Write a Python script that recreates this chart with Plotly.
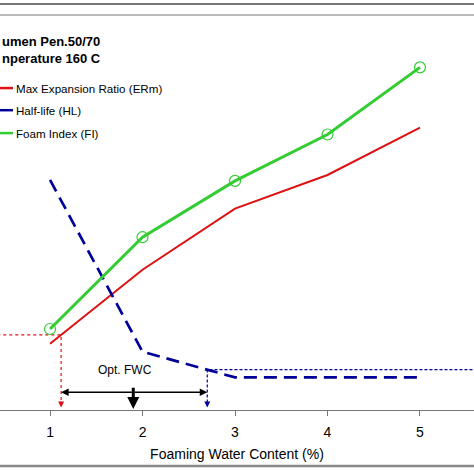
import plotly.graph_objects as go

# ---- data (y in arbitrary chart units) ----
fwc = [1, 2, 3, 4, 5]
erm = [6.7, 14.2, 20.4, 23.8, 28.6]      # Max Expansion Ratio (ERm)
hl = [23.3, 5.9, 3.3, 3.3, 3.3]          # Half-life (HL)
fi = [8.2, 17.5, 23.2, 27.9, 34.7]       # Foam Index (FI)
x_ticks = [1, 2, 3, 4, 5]
fwc_low = 1.12     # FWC where ERm meets its limit
fwc_high = 2.70    # FWC where HL meets its limit
fwc_opt = 1.90     # optimum FWC
erm_limit = 7.6
hl_limit = 4.08

RED = "#DD1111"
BLUE = "#000099"
GREEN = "#33CC33"
FONT = "Liberation Sans, Arial, sans-serif"

fig = go.Figure()

# reference (dotted) lines
fig.add_trace(go.Scatter(x=[0.3, fwc_low, fwc_low], y=[erm_limit, erm_limit, 0.7],
                         mode="lines", line=dict(color=RED, width=1.2, dash="3px,3px"),
                         hoverinfo="skip", showlegend=False))
fig.add_trace(go.Scatter(x=[6.0, fwc_high, fwc_high], y=[hl_limit, hl_limit, 0.7],
                         mode="lines", line=dict(color=BLUE, width=1.2, dash="3px,2px"),
                         hoverinfo="skip", showlegend=False))

fig.add_trace(go.Scatter(x=fwc, y=erm, mode="lines", name="Max Expansion Ratio (ERm)",
                         line=dict(color=RED, width=2)))
fig.add_trace(go.Scatter(x=fwc, y=hl, mode="lines", name="Half-life (HL)",
                         line=dict(color=BLUE, width=2.7, dash="13px,7px")))
fig.add_trace(go.Scatter(x=fwc, y=fi, mode="lines+markers", name="Foam Index (FI)",
                         line=dict(color=GREEN, width=3),
                         marker=dict(symbol="circle-open", size=11, color=GREEN,
                                     line=dict(width=1.2, color=GREEN))))

annotations = []
# dotted-line arrowheads
for xv, col in [(fwc_low, RED), (fwc_high, BLUE)]:
    annotations.append(dict(x=xv, y=0.25, ax=xv, ay=1.0, xref="x", yref="y",
                            axref="x", ayref="y", showarrow=True, arrowhead=2,
                            arrowsize=1, arrowwidth=1.2, arrowcolor=col, text=""))
# double arrow for optimum range
for xv in [fwc_low, fwc_high]:
    annotations.append(dict(x=xv, y=1.8, ax=fwc_opt, ay=1.8, xref="x", yref="y",
                            axref="x", ayref="y", showarrow=True, arrowhead=2,
                            arrowsize=1, arrowwidth=1.5, arrowcolor="black", text=""))
# optimum FWC arrow
annotations.append(dict(x=fwc_opt, y=0.1, ax=fwc_opt, ay=2.4, xref="x", yref="y",
                        axref="x", ayref="y", showarrow=True, arrowhead=2,
                        arrowsize=0.8, arrowwidth=3, arrowcolor="black", text=""))
annotations.append(dict(x=1.81, y=4.05, xref="x", yref="y", text="Opt. FWC",
                        showarrow=False, font=dict(family=FONT, size=12, color="black")))

# title block (cropped in the source)
annotations.append(dict(x=0, y=0.932, xref="paper", yref="paper", xanchor="left",
                        yanchor="middle", text="<b>umen Pen.50/70</b>", showarrow=False,
                        font=dict(family=FONT, size=13, color="black")))
annotations.append(dict(x=0, y=0.889, xref="paper", yref="paper", xanchor="left",
                        yanchor="middle", text="<b>nperature 160 C</b>", showarrow=False,
                        font=dict(family=FONT, size=13, color="black")))

shapes = []
legend_items = [("Max Expansion Ratio (ERm)", RED, 0.815),
                ("Half-life (HL)", BLUE, 0.759),
                ("Foam Index (FI)", GREEN, 0.701)]
for label, col, yp in legend_items:
    shapes.append(dict(type="line", xref="paper", yref="paper", x0=0, x1=13 / 474,
                       y0=yp, y1=yp, line=dict(color=col, width=2.5)))
    annotations.append(dict(x=14 / 474, y=yp, xref="paper", yref="paper",
                            xanchor="left", yanchor="middle", text=label,
                            showarrow=False,
                            font=dict(family=FONT, size=11.6, color="black")))

# frame lines of the cropped figure
for yp, col, w in [(406 / 395, "#777777", 2), (1.0, "#BBBBBB", 2), (-56 / 395, "#888888", 2.5)]:
    shapes.append(dict(type="line", xref="paper", yref="paper", x0=0, x1=1,
                       y0=yp, y1=yp, layer="above", line=dict(color=col, width=w)))

fig.update_layout(
    width=474, height=474,
    margin=dict(l=0, r=0, t=15, b=64, autoexpand=False),
    paper_bgcolor="white", plot_bgcolor="white",
    showlegend=False,
    annotations=annotations, shapes=shapes,
    font=dict(family=FONT, size=13, color="black"),
    xaxis=dict(range=[0.459, 5.584], tickmode="array", tickvals=x_ticks,
               ticks="outside", ticklen=5, tickcolor="#777777",
               ticklabelstandoff=4,
               showline=True, linecolor="#777777", linewidth=1,
               showgrid=False, zeroline=False,
               tickfont=dict(family=FONT, size=14, color="black"),
               title=dict(text="Foaming Water Content (%)", standoff=10,
                          font=dict(family=FONT, size=14, color="black"))),
    yaxis=dict(range=[0, 40], showticklabels=False, showgrid=False,
               zeroline=False, showline=False, ticks=""),
)

fig.write_html("out.html", config={"displayModeBar": False},
               post_script="document.body.style.margin='0';document.body.style.overflow='hidden';")
